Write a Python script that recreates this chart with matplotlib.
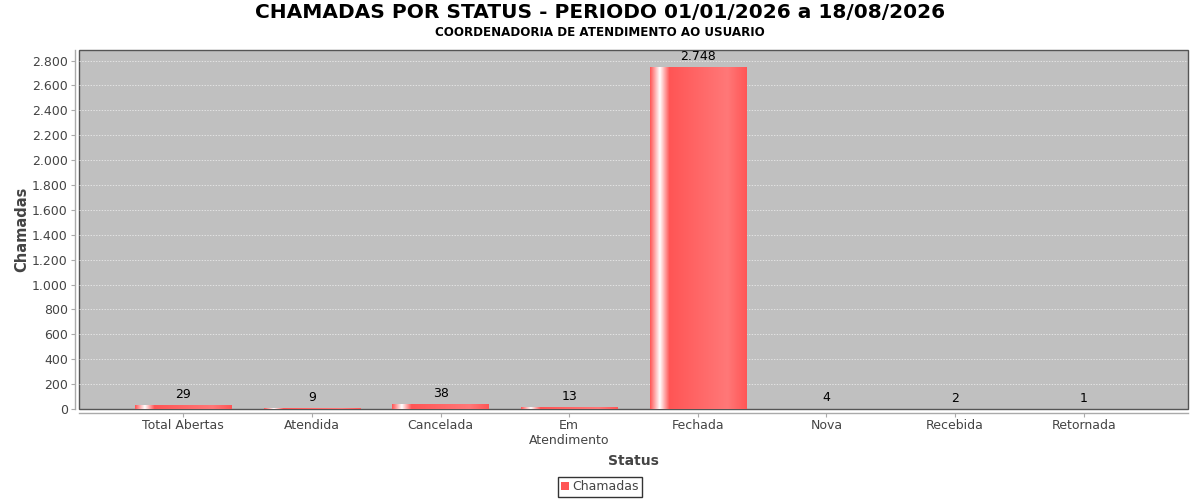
import matplotlib
matplotlib.use("Agg")
import matplotlib.pyplot as plt
import numpy as np
from matplotlib.colors import LinearSegmentedColormap
from matplotlib.patches import Patch
from matplotlib.ticker import FuncFormatter, MultipleLocator

categories = ["Total Abertas", "Atendida", "Cancelada", "Em\nAtendimento",
              "Fechada", "Nova", "Recebida", "Retornada"]
values = [29, 9, 38, 13, 2748, 4, 2, 1]
series_name = "Chamadas"
title = "CHAMADAS POR STATUS - PERIODO 01/01/2026 a 18/08/2026"
subtitle = "COORDENADORIA DE ATENDIMENTO AO USUARIO"

plt.rcParams['font.family'] = ['DejaVu Sans']

base = "#FF5555"
light = "#FF7878"
cmap = LinearSegmentedColormap.from_list(
    "jfc", [(0.0, base), (0.10, "#FFFFFF"), (0.20, base), (0.80, light), (1.0, base)])
grad = np.linspace(0, 1, 256).reshape(1, -1)

fig = plt.figure(figsize=(12, 5), dpi=100)
ax = fig.add_axes([79/1200, 91/500, 1109/1200, 359/500])
ax.set_facecolor("#C0C0C0")
ax.patch.set_edgecolor("#555555")
ax.patch.set_linewidth(1.0)

x = np.arange(len(categories))
w = 0.75
bars = ax.bar(x, values, width=w, color="none", edgecolor="none", zorder=3)
ymax = max(values)
for xi, v, b in zip(x, values, bars):
    im = ax.imshow(grad, cmap=cmap, aspect='auto',
                   extent=[xi - w/2, xi + w/2, 0, ymax],
                   zorder=3, interpolation='bilinear')
    im.set_clip_path(b)
    ax.annotate(f"{v:,}".replace(",", "."), xy=(xi, v), xytext=(0, 3),
                textcoords="offset points", ha="center", va="bottom",
                fontsize=9, color="#000000", zorder=4)

ax.set_xlim(-0.81, len(categories) - 1 + 0.81)
ax.set_ylim(0, 2885)
ax.yaxis.set_major_locator(MultipleLocator(200))
ax.yaxis.set_major_formatter(FuncFormatter(lambda v, p: f"{int(v):,}".replace(",", ".")))
ax.grid(axis='y', color="#F2F2F2", linestyle=(0, (2, 2)), linewidth=0.5, zorder=1)
ax.set_axisbelow(True)

ax.set_xticks(x)
ax.set_xticklabels(categories)

for s in ("top", "right"):
    ax.spines[s].set_visible(False)
for s in ("left", "bottom"):
    ax.spines[s].set_position(("outward", 3))
    ax.spines[s].set_color("#AAAAAA")
    ax.spines[s].set_linewidth(1.0)

ax.tick_params(axis='both', colors="#AAAAAA", labelcolor="#444444", labelsize=9,
               length=3, width=0.8, pad=2)
ax.tick_params(axis='x', pad=1)

ax.set_xlabel("Status", fontsize=10, fontweight="bold", color="#444444", labelpad=5)
ax.set_ylabel("Chamadas", fontsize=10.5, fontweight="bold", color="#444444", labelpad=2)

fig.text(0.5, 1 - 13/500, title, ha="center", va="center", fontsize=14.5,
         fontweight="bold", color="#000000")
fig.text(0.5, 1 - 32/500, subtitle, ha="center", va="center", fontsize=8.6,
         fontweight="bold", color="#000000")

leg = fig.legend(handles=[Patch(facecolor=base, edgecolor="none", label=series_name)],
                 loc="center", bbox_to_anchor=(0.5, 1 - 487/500), fontsize=9,
                 frameon=True, fancybox=False, handlelength=0.6, handleheight=0.6,
                 handletextpad=0.3, borderpad=0.25, borderaxespad=0)
leg.get_frame().set_edgecolor("#000000")
leg.get_frame().set_linewidth(1.0)
for t in leg.get_texts():
    t.set_color("#444444")

fig.savefig("out.png", dpi=100, facecolor="white")
